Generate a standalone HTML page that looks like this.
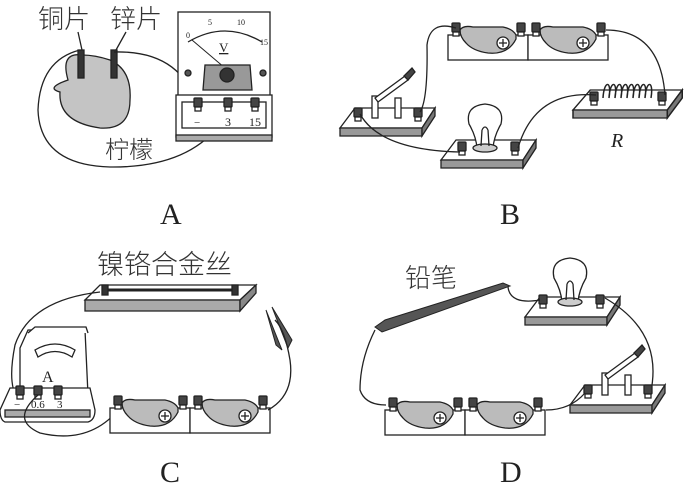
<!DOCTYPE html>
<html><head><meta charset="utf-8"><style>
html,body{margin:0;padding:0;background:#fff;}
svg{display:block;}
text{font-family:"Liberation Serif","Noto Serif CJK SC",serif;fill:#222;stroke:none;}
.cjk{font-family:"Liberation Sans","Noto Sans CJK SC",sans-serif;fill:#333;font-weight:300;}
</style></head><body>
<svg width="685" height="487" viewBox="0 0 685 487" xmlns="http://www.w3.org/2000/svg" stroke="#222" fill="none" stroke-width="1.3">
<defs>
  <g id="term"><rect x="-4" y="-6" width="8" height="9" fill="#444" stroke="#222" rx="1"/><rect x="-3" y="3" width="6" height="4" fill="#fff"/></g>
  <g id="bat">
    <rect x="0" y="10" width="80" height="25" fill="#fff"/>
    <path d="M12 5 Q15 0 25 2 L55 2 Q65 4 68 10 L68 14 Q60 30 40 28 Q25 26 18 18 Q12 12 12 5Z" fill="#bbb"/>
    <circle cx="55" cy="18" r="6" fill="#fff"/><path d="M51 18h8M55 14v8"/>
    <use href="#term" x="8" y="4"/><use href="#term" x="73" y="4"/>
  </g>
  <g id="bat2"><use href="#bat"/><use href="#bat" x="80"/></g>
  <g id="board"><path d="M0 20 L15 0 L95 0 L82 20Z" fill="#fff"/><path d="M0 20 L82 20 L82 28 L0 28Z" fill="#999"/><path d="M82 20 L95 0 L95 8 L82 28Z" fill="#777"/></g>
  <g id="bulb"><path d="M-8 0 Q-9 -12 -16 -24 Q-20 -42 0 -44 Q20 -42 16 -24 Q9 -12 8 0" fill="#fff"/><ellipse cx="0" cy="0" rx="12" ry="4" fill="#ccc"/><path d="M-4 -2 L-3 -18 M4 -2 L3 -18 M-3 -18 Q0 -24 3 -18"/></g>
  <g id="switch"><use href="#board"/><use href="#term" x="18" y="6"/><use href="#term" x="78" y="6"/>
    <rect x="32" y="-12" width="6" height="22" fill="#fff"/><rect x="55" y="-10" width="6" height="20" fill="#fff"/>
    <path d="M35 -10 L65 -32 L68 -28 L38 -6Z" fill="#fff"/><path d="M64 -32 L72 -40 L75 -36 L68 -28Z" fill="#444"/></g>
</defs>

<!-- Panel A -->
<text x="38" y="28" class="cjk" font-size="26">铜片</text>
<text x="110" y="28" class="cjk" font-size="26">锌片</text>
<path d="M78 32 L82 50 M126 32 L116 50"/>
<path d="M82 55 Q60 52 68 80 Q45 88 60 92 Q58 122 100 128 Q130 130 130 100 Q132 70 110 60 Q95 55 82 55Z" fill="#c4c4c4"/>
<rect x="78" y="50" width="6" height="28" fill="#333"/><rect x="111" y="50" width="6" height="28" fill="#333"/>
<path d="M80 50 Q40 60 38 110 Q40 165 110 167 Q200 168 230 108"/>
<path d="M114 52 Q180 50 197 105"/>
<rect x="178" y="12" width="92" height="84" fill="#fff"/>
<path d="M188 42 Q225 20 262 42"/>
<path d="M192 40 L225 68" stroke-width="1"/>
<text x="219" y="52" font-size="13" text-decoration="underline">V</text>
<text x="208" y="25" font-size="8">5</text><text x="237" y="25" font-size="8">10</text><text x="186" y="38" font-size="8">0</text><text x="260" y="45" font-size="8">15</text>
<path d="M205 65 L250 65 L252 90 L203 90Z" fill="#999"/>
<circle cx="227" cy="75" r="7" fill="#333"/><circle cx="188" cy="73" r="3" fill="#555"/><circle cx="263" cy="73" r="3" fill="#555"/>
<rect x="176" y="95" width="96" height="42" fill="#fff"/><rect x="182" y="102" width="84" height="26" fill="#fff"/>
<rect x="176" y="135" width="96" height="6" fill="#aaa"/>
<use href="#term" x="198" y="104"/><use href="#term" x="228" y="104"/><use href="#term" x="255" y="104"/>
<text x="194" y="126" font-size="11">−</text><text x="225" y="126" font-size="12">3</text><text x="249" y="126" font-size="12">15</text>
<text x="105" y="158" class="cjk" font-size="24">柠檬</text>
<text x="160" y="224" font-size="30">A</text>

<!-- Panel B -->
<use href="#bat2" x="448" y="25"/>
<use href="#switch" x="340" y="108"/>
<use href="#board" x="441" y="140"/>
<use href="#bulb" x="485" y="148"/>
<use href="#term" x="462" y="148"/><use href="#term" x="515" y="148"/>
<use href="#board" transform="translate(573 90) scale(1.15 1)"/>
<use href="#term" x="594" y="98"/><use href="#term" x="662" y="98"/>
<path d="M603 98 c1 -18 9 -18 6 0 c1 -18 9 -18 6 0 c1 -18 9 -18 6 0 c1 -18 9 -18 6 0 c1 -18 9 -18 6 0 c1 -18 9 -18 6 0 c1 -18 9 -18 6 0 c1 -18 9 -18 6 0" stroke-width="1.5"/>
<text x="611" y="147" font-size="20" font-style="italic">R</text>
<path d="M456 28 Q430 20 427 45 Q428 100 420 112"/>
<path d="M606 30 Q660 30 665 95"/>
<path d="M360 114 Q380 150 460 152"/>
<path d="M518 148 Q535 90 596 95"/>
<text x="500" y="224" font-size="30">B</text>

<!-- Panel C -->
<text x="97" y="274" class="cjk" font-size="27">镍铬合金丝</text>
<path d="M85 300 L100 285 L256 285 L240 300Z" fill="#fff"/>
<path d="M85 300 L240 300 L240 311 L85 311Z" fill="#aaa"/>
<path d="M240 300 L256 285 L256 293 L240 311Z" fill="#888"/>
<path d="M103 290 L236 290" stroke-width="3"/>
<rect x="102" y="285" width="6" height="10" fill="#333"/><rect x="232" y="285" width="6" height="10" fill="#333"/>
<path d="M266 310 L276 345 L282 350 Z M272 307 L292 340 L288 348 Z" fill="#555" stroke-width="1"/>
<path d="M100 292 Q30 300 15 345 Q5 395 25 405"/>
<path d="M20 348 L28 330 L85 330 L88 395 L20 395Z" fill="#fff"/>
<path d="M28 333 L35 327 L86 327 L88 333" fill="#fff"/>
<path d="M35 350 Q55 338 75 350 L72 357 Q55 346 38 357Z" fill="#fff"/>
<text x="42" y="382" font-size="16">A</text>
<path d="M0 410 L10 388 L90 388 L95 410 Q95 420 88 422 L5 422 Q0 420 0 410Z" fill="#fff"/>
<rect x="5" y="410" width="85" height="7" fill="#aaa"/>
<use href="#term" x="20" y="392"/><use href="#term" x="38" y="392"/><use href="#term" x="58" y="392"/>
<text x="14" y="408" font-size="11">−</text><text x="31" y="408" font-size="11">0.6</text><text x="57" y="408" font-size="11">3</text>
<path d="M38 395 Q10 420 40 433 Q90 445 120 408"/>
<use href="#bat2" x="110" y="398"/>
<path d="M268 410 Q295 395 290 360 Q285 330 275 320"/>
<text x="160" y="482" font-size="30">C</text>

<!-- Panel D -->
<text x="405" y="287" class="cjk" font-size="26">铅笔</text>
<path d="M375 327 L385 320 L503 283 L510 286 L382 332Z" fill="#555" stroke-width="1"/>
<use href="#board" x="525" y="297"/>
<use href="#bulb" x="570" y="302"/>
<use href="#term" x="543" y="301"/><use href="#term" x="600" y="301"/>
<path d="M508 287 Q510 305 540 300"/>
<path d="M605 298 Q660 330 652 385"/>
<use href="#switch" x="570" y="385"/>
<use href="#bat2" x="385" y="400"/>
<path d="M375 330 Q360 360 360 390 Q365 405 386 405"/>
<path d="M546 410 Q570 410 585 393"/>
<text x="500" y="482" font-size="30">D</text>
</svg>
</body></html>
